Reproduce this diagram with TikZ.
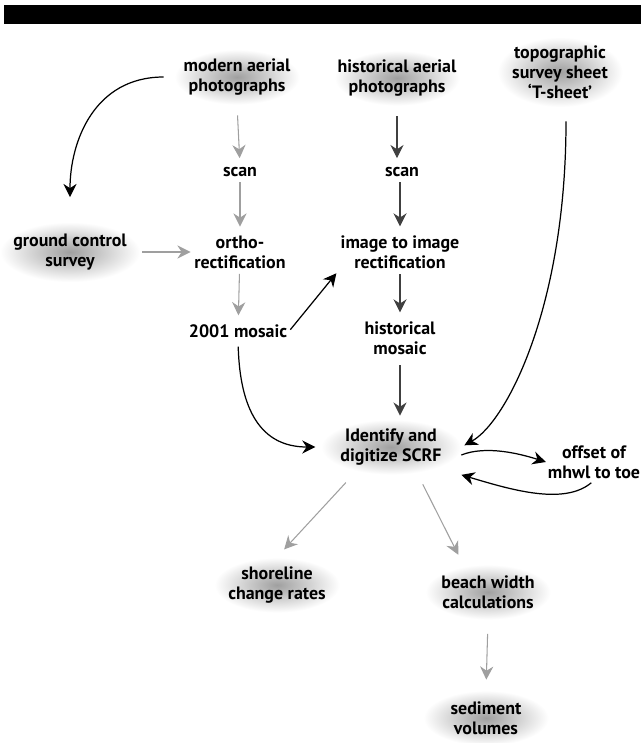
\documentclass[tikz,border=0pt]{standalone}
\usepackage{fontspec}
\setsansfont{PT Sans}
\usetikzlibrary{arrows.meta, shapes.geometric}

\begin{document}
\begin{tikzpicture}[x=0.02cm, y=-0.02cm,
    txt/.style={font=\sffamily\bfseries\fontsize{10.2}{11.3}\selectfont, align=center, inner sep=1pt},
    blob/.style={txt, shade, inner color=gray!75, outer color=white, minimum width=2.5cm, minimum height=1.1cm},
    lightarrow/.style={-{Stealth[length=7.5pt,width=7.5pt]}, draw=gray!75, line width=0.6pt},
    darkarrow/.style={-{Stealth[length=7.5pt,width=7.5pt]}, draw=black!75, line width=0.6pt},
    bendarrow/.style={-{Stealth[length=7.5pt,width=7.5pt]}, draw=black, line width=0.7pt}]
    \useasboundingbox (0,0) rectangle (641,743);
    \fill[black] (4,5) rectangle (641,24);
    % sources
    \node[blob] (modern) at (237,77) {modern aerial\\photographs};
    \node[blob] (histphoto) at (397,78) {historical aerial\\photographs};
    \node[blob, minimum height=1.4cm] (tsheet) at (560,72) {topographic\\survey sheet\\`T-sheet'};
    \node[blob, minimum width=2.8cm, minimum height=1.2cm] (ground) at (70,252) {ground control\\survey};
    % processing
    \node[txt] (scanA) at (240,172) {scan};
    \node[txt] (scanB) at (402,172) {scan};
    \node[txt] (ortho) at (240,252) {ortho-\\rectification};
    \node[txt] (imgrect) at (400,252) {image to image\\rectification};
    \node[txt] (mosaicA) at (238,331) {2001 mosaic};
    \node[txt] (mosaicB) at (400,338) {historical\\mosaic};
    \node[blob, minimum width=2.8cm] (scrf) at (391,447) {Identify and\\digitize SCRF};
    \node[txt] (offset) at (594,462) {offset of\\mhwl to toe};
    % products
    \node[blob] (shore) at (277,585) {shoreline\\change rates};
    \node[blob] (beach) at (488,592) {beach width\\calculations};
    \node[blob] (sediment) at (486,718) {sediment\\volumes};

    \draw[lightarrow, shorten <=6pt, shorten >=4pt] (modern.south) -- (scanA.north);
    \draw[darkarrow, shorten <=6pt, shorten >=4pt] (histphoto.south) -- (scanB.north -| histphoto.south);
    \draw[lightarrow, shorten <=2pt, shorten >=4pt] (scanA) -- (ortho);
    \draw[darkarrow, shorten <=2pt, shorten >=4pt] (scanB.south -| imgrect.north) -- (imgrect.north);
    \draw[lightarrow, shorten <=1pt, shorten >=1pt] (ground.east) -- (ortho.west);
    \draw[lightarrow, shorten <=2pt, shorten >=4pt] (ortho) -- (mosaicA);
    \draw[darkarrow, shorten <=2pt, shorten >=4pt] (imgrect) -- (mosaicB);
    \draw[bendarrow, shorten <=1pt, shorten >=2pt] (mosaicA.east) -- (imgrect.south west);
    \draw[darkarrow, shorten <=5pt, shorten >=2pt] (mosaicB.south) -- (mosaicB.south |- scrf.north);
    \draw[bendarrow, shorten <=6pt, shorten >=14pt] (modern.west) .. controls +(-80,0) and +(0,-80) .. (ground.north);
    \draw[bendarrow, shorten <=4pt, shorten >=3pt] (mosaicA.south) .. controls +(2,70) and +(-60,0) .. (scrf.west);
    \draw[bendarrow, shorten <=8pt, shorten >=2pt] (tsheet.south -| 566,0) .. controls +(0,200) and +(45,-25) .. (scrf.east);
    \draw[bendarrow] (scrf.east) ++(0,8) coordinate (scrfout) (scrfout) .. controls +(25,-10) and +(-25,-8) .. (offset.west);
    \draw[bendarrow, shorten <=2pt] (offset.south) .. controls +(-30,25) and +(50,15) .. (scrf.south east);
    \draw[lightarrow, shorten <=6pt, shorten >=6pt] (scrf.south) ++(-38,0) coordinate (scrfsw) (scrfsw) -- (shore.north);
    \draw[lightarrow, shorten <=6pt, shorten >=6pt] (scrf.south) ++(27,0) coordinate (scrfse) (scrfse) -- (beach.north -| 463,0);
    \draw[lightarrow, shorten <=8pt, shorten >=6pt] (beach.south) -- (sediment.north);
\end{tikzpicture}
\end{document}
